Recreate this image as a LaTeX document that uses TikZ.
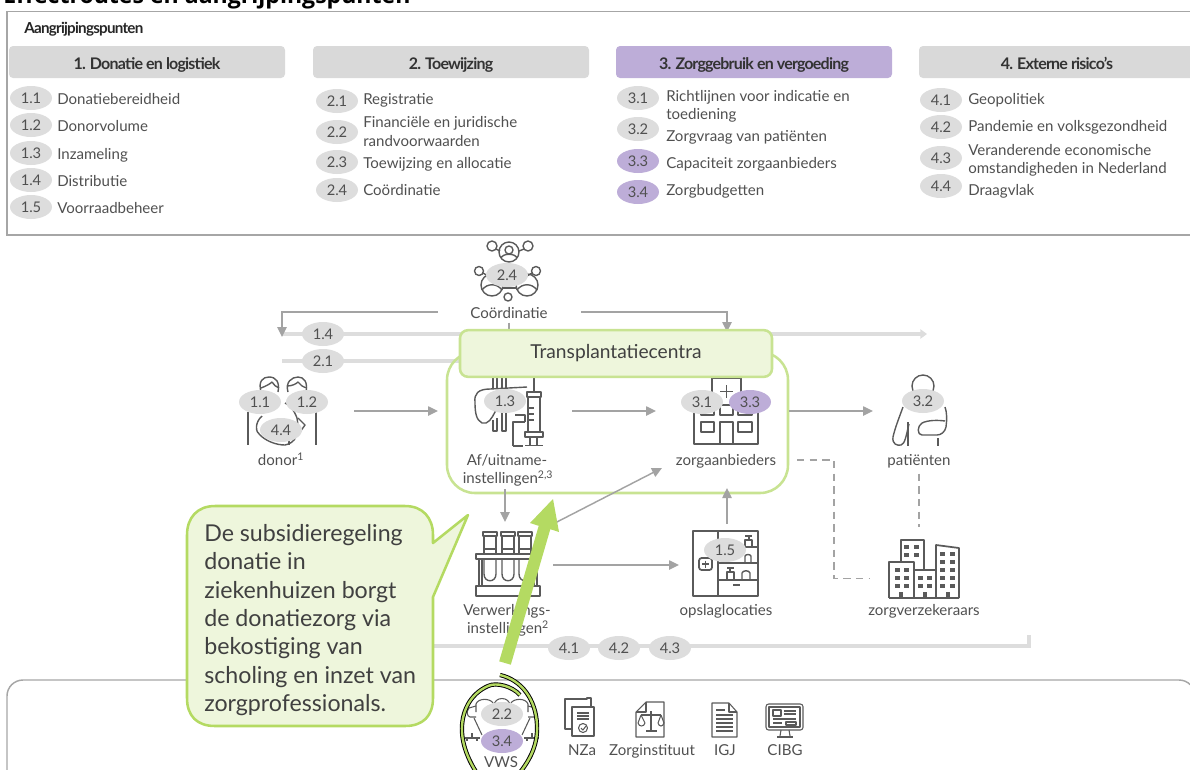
\documentclass[tikz,border=0pt]{standalone}
\usepackage{fontspec}
\setmainfont{Lato}
\newfontfamily\titlefont{Open Sans}
\newfontfamily\headfont[LetterSpace=-5]{Lato}
\usetikzlibrary{shapes.geometric,arrows.meta,calc}
\definecolor{framec}{HTML}{A6A6A6}
\definecolor{headc}{HTML}{D9D9D9}
\definecolor{purpc}{HTML}{BDADD8}
\definecolor{ellc}{HTML}{DDDDDD}
\definecolor{txtc}{HTML}{505050}
\definecolor{iconc}{HTML}{5A5A5A}
\definecolor{greenf}{HTML}{EEF6DC}
\definecolor{greenb}{HTML}{C8E392}
\definecolor{greend}{HTML}{B4DA62}
\definecolor{arrc}{HTML}{A3A3A3}
\newcommand{\fs}[1]{\fontsize{#1}{#1}\selectfont}
\tikzset{
  x=0.75pt,y=-0.75pt,
  pill/.style={ellipse,fill=ellc,minimum width=31.5pt,minimum height=18pt,inner sep=0pt,text=txtc,font=\fs{11}},
  pillp/.style={pill,fill=purpc},
  headbox/.style={fill=headc,rounded corners=3pt,minimum width=207pt,minimum height=24pt,inner sep=0pt,font=\headfont\bfseries\fs{12},text=black!80,text height=13pt,text depth=1.2pt},
  item/.style={anchor=west,inner sep=0pt,text=txtc,font=\fs{11.3},text height=10pt,text depth=1.2pt},
  lab/.style={inner sep=0pt,text=txtc,font=\fs{11.3},text height=10pt,text depth=1.2pt},
  arrowline/.style={draw=arrc,line width=1.1pt,-{Triangle[length=7.5pt,width=7pt]}},
  dashline/.style={draw=arrc,line width=1.1pt,dash pattern=on 5.5pt off 4pt},
  barline/.style={draw=ellc,line width=3.6pt},
  ic/.style={draw=iconc,line width=1.05pt,line join=round},
  slot/.style={inner sep=0pt,outer sep=0pt},
}
\begin{document}
\begin{tikzpicture}
\useasboundingbox (0,0) rectangle (1190,769);
\clip (0,0) rectangle (1190,769);
\node[anchor=base west,inner sep=0pt,font=\titlefont\bfseries\fs{17.3}] (title) at (3,3) {Effectroutes en aangrijpingspunten};
\draw[framec,line width=1.1pt] (7,11.5) rectangle (1200,235);
\node[anchor=west,inner sep=0pt,font=\headfont\bfseries\fs{11.4},text=black!85,text height=11pt,text depth=1pt] (aang) at (24,27) {Aangrijpingspunten};
\node[headbox] (h1) at (147,62) {1. Donatie en logistiek};
\node[headbox] (h2) at (451,62) {2. Toewijzing};
\node[headbox,fill=purpc] (h3) at (754,62) {3. Zorggebruik en vergoeding};
\node[headbox] (h4) at (1057,62) {4. Externe risico’s};
% list 1
\node[pill] (l11) at (31,98) {1.1}; \node[item] (t11) at (57,99) {Donatiebereidheid};
\node[pill] (l12) at (31,125) {1.2}; \node[item] (t12) at (57,126) {Donorvolume};
\node[pill] (l13) at (31,153) {1.3}; \node[item] (t13) at (57,154) {Inzameling};
\node[pill] (l14) at (31,180) {1.4}; \node[item] (t14) at (57,181) {Distributie};
\node[pill] (l15) at (31,207) {1.5}; \node[item] (t15) at (57,208) {Voorraadbeheer};
% list 2
\node[pill] (l21) at (337,101) {2.1}; \node[item] (t21) at (363,99) {Registratie};
\node[pill] (l22) at (337,132) {2.2}; \node[item] (t22a) at (363,122) {Financiële en juridische};
\node[item] (t22b) at (363,141) {randvoorwaarden};
\node[pill] (l23) at (337,162) {2.3}; \node[item] (t23) at (363,163) {Toewijzing en allocatie};
\node[pill] (l24) at (337,190) {2.4}; \node[item] (t24) at (363,190) {Coördinatie};
% list 3
\node[pill] (l31) at (638,98) {3.1}; \node[item] (t31a) at (666,96) {Richtlijnen voor indicatie en};
\node[item] (t31b) at (666,114) {toediening};
\node[pill] (l32) at (638,129) {3.2}; \node[item] (t32) at (666,136) {Zorgvraag van patiënten};
\node[pillp] (l33) at (638,161) {3.3}; \node[item] (t33) at (666,163) {Capaciteit zorgaanbieders};
\node[pillp] (l34) at (638,192) {3.4}; \node[item] (t34) at (666,190) {Zorgbudgetten};
% list 4
\node[pill] (l41) at (941,100) {4.1}; \node[item] (t41) at (968,99) {Geopolitiek};
\node[pill] (l42) at (941,127) {4.2}; \node[item] (t42) at (968,126) {Pandemie en volksgezondheid};
\node[pill] (l43) at (941,158) {4.3}; \node[item] (t43a) at (968,150) {Veranderende economische};
\node[item] (t43b) at (968,168) {omstandigheden in Nederland};
\node[pill] (l44) at (941,186) {4.4}; \node[item] (t44) at (968,190) {Draagvlak};

% invisible slots the connectors run between
\node[slot,minimum width=104.25pt,minimum height=54pt] (donor) at (284.5,411) {};
\node[slot,minimum width=100.5pt,minimum height=54pt] (af) at (505,411) {};
\node[slot,minimum width=99.75pt,minimum height=54pt] (hosp) at (722.5,411) {};
\node[slot,minimum width=69pt,minimum height=54pt] (pat) at (919,411) {};
\node[slot,minimum width=72pt,minimum height=64.5pt] (verw) at (505,565) {};
\node[slot,minimum width=72pt,minimum height=61.5pt] (opslag) at (727,565) {};
\node[slot,minimum width=60pt,minimum height=42pt] (zv) at (919,555) {};
\coordinate (hospIn) at (727,488);
\coordinate (diagS) at (553,524);
\coordinate (diagE) at (662,468);
\coordinate (d1) at (797,460);
\coordinate (d2) at (834,460);
\coordinate (d3) at (834,578.5);
\coordinate (d4) at (870,578.5);
\coordinate (b14s) at (282,334);
\coordinate (b14e) at (927,334);
\coordinate (b21s) at (282,361);
\coordinate (b21e) at (470,361);
\coordinate (c1) at (438,312);
\coordinate (c1t) at (282,337);
\coordinate (c2) at (581,312);
\coordinate (c2t) at (727,332);
\coordinate (bs) at (420,646);
\coordinate (bc) at (1029,646);
\coordinate (be) at (1029,635);

% bars
\draw[barline,-{Triangle[length=5pt,width=7pt]}] (b14s) -- (b14e);
\draw[barline] (b21s) -- (b21e);
\draw[barline] (bs) -- (bc) -- (be);
\draw[draw=greenb,line width=1.9pt,rounded corners=21pt] (447,352) rectangle (788,493);

% text labels
\node[lab] (coord) at (509,313) {Coördinatie};
\node[lab] (dlab) at (281,460) {donor\textsuperscript{1}};
\node[lab] (afa) at (507,460) {Af/uitname-};
\node[lab] (afb) at (508,478) {instellingen\textsuperscript{2,3}};
\node[lab] (hlab) at (726,460) {zorgaanbieders};
\node[lab] (plab) at (919,460) {patiënten};
\node[lab] (va) at (507,610) {Verwerkings-};
\node[lab] (vb) at (508,628) {instellingen\textsuperscript{2}};
\node[lab] (olab) at (726,610) {opslaglocaties};
\node[lab] (zlab) at (924,610) {zorgverzekeraars};

% connectors
\draw[arrowline] (c1) -| (c1t);
\draw[arrowline] (c2) -| (c2t);
\draw[draw=arrc,line width=1.1pt] (coord.south) ++(0,2) -- (coord.south |- 0,330);
\draw[arrowline] (donor.east) -- (af.west);
\draw[arrowline] (af.east) -- (hosp.west);
\draw[arrowline] (hosp.east) -- (pat.west);
\draw[arrowline] (verw.north |- 0,489) -- (verw.north);
\draw[arrowline] (verw.east) -- (opslag.west);
\draw[arrowline] (opslag.north) -- (hospIn);
\draw[arrowline] (diagS) -- (diagE);
\draw[dashline] (d1) -- (d2) -- (d3) -- (d4);
\draw[dashline] (plab.south) ++(0,6) -- (zv.north);

% icon: coordination
\begin{scope}[ic]
\draw (509,252) circle (10); \draw (509,250) circle (4);
\draw (501,258) .. controls (503,253) and (515,253) .. (517,258);
\draw (492,246) circle (5); \draw (528,246) circle (5);
\draw (479,271) circle (4.5); \draw (536,271) circle (4.5);
\draw (508,297) circle (4);
\draw (496,249) -- (500,251); \draw (524,249) -- (519,251);
\draw (483,273) -- (488,276); \draw (532,273) -- (527,276);
\draw (492,285) circle (11); \draw (527,285) circle (11);
\draw (482,290) .. controls (487,283) and (497,283) .. (502,290);
\draw (517,290) .. controls (522,283) and (532,283) .. (537,290);
\draw (503,288) -- (516,288);
\end{scope}
% icon: donor
\begin{scope}[ic]
\draw (261,392) .. controls (258,381) and (263,377) .. (269,377) .. controls (276,377) and (280,382) .. (278,392);
\draw (261,388) .. controls (266,386) and (270,384) .. (272,382) .. controls (274,385) and (276,387) .. (279,388);
\draw (288,392) .. controls (285,382) and (292,377) .. (298,377) .. controls (304,377) and (308,382) .. (306,392);
\draw (287,386) .. controls (292,386) and (296,384) .. (298,382) .. controls (300,385) and (303,387) .. (307,388);
\draw (248,412) -- (248,445); \draw (316,412) -- (316,445); \draw (289,436) -- (289,445);
\draw (262,416) .. controls (255,422) and (255,432) .. (260,435) .. controls (266,441) and (276,445) .. (285,445) .. controls (295,443) and (300,435) .. (297,418) .. controls (294,410) and (290,405) .. (285,403);
\draw (298,418) -- (305,425) -- (300,432);
\end{scope}
% icon: liver and syringe
\begin{scope}[ic]
\draw (527,387) -- (490,389) .. controls (478,389) and (474,394) .. (475,402) .. controls (475,412) and (476,420) .. (482,423) .. controls (488,425) and (492,418) .. (495,412) .. controls (497,408) and (500,404) .. (502,402);
\draw (493,378) -- (493,389); \draw (497,378) -- (497,389); \draw (502,378) -- (502,389); \draw (506,378) -- (506,389);
\draw (493,420) -- (493,431) -- (497,431) -- (497,418); \draw (502,412) -- (502,431) -- (506,431) -- (506,412);
\draw (515,415) -- (525,415) -- (525,422); \draw (513,446) -- (513,422) -- (525,422); \draw (513,446) -- (523,446);
\draw (534,377) -- (534,392);
\draw (527,392) rectangle (541,397);
\draw (528,397) rectangle (540,432);
\draw (528,408) -- (534,408); \draw (528,414) -- (534,414); \draw (528,420) -- (534,420);
\draw (525,432) rectangle (543,437);
\draw (530,437) -- (530,445); \draw (537,437) -- (537,445);
\draw (525,445.5) -- (543,445.5);
\end{scope}
% icon: hospital
\begin{scope}[ic]
\draw (712,405) -- (712,378) -- (741,378) -- (741,405);
\draw (726.5,385) -- (726.5,398); \draw (720,391.5) -- (733,391.5);
\draw (694,444) rectangle (758,405);
\draw (701,405) rectangle (714,415); \draw (720,405) rectangle (733,415); \draw (738,405) rectangle (752,415);
\draw (701,422) rectangle (714,432); \draw (738,422) rectangle (752,432);
\draw (720,444) -- (720,422) -- (733,422) -- (733,444);
\end{scope}
% icon: patient
\begin{scope}[ic]
\draw (923,386) circle (11);
\draw (903,407) .. controls (899,418) and (895,428) .. (893,437) .. controls (892,444) and (897,446) .. (901,445) .. controls (905,444) and (906,436) .. (909,424);
\draw (908,422) -- (908,446);
\draw (945,407) .. controls (947,412) and (947,420) .. (946,427) .. controls (945,432) and (941,435) .. (937,435) -- (922,435) .. controls (917,435) and (917,426) .. (922,423) .. controls (928,420) and (938,420) .. (945,421);
\draw (938,438) -- (938,446);
\end{scope}
% icon: storage
\begin{scope}[ic,line width=1.3pt]
\draw (693,531) rectangle (758,596);
\draw (718,531) -- (718,596);
\draw (718,547) -- (758,547); \draw (718,563) -- (758,563); \draw (718,580) -- (758,580);
\draw[rounded corners=2pt] (699,558) rectangle (712,570);
\draw (702,564) -- (709,564); \draw (705.5,560.5) -- (705.5,567.5);
\draw (733,585) -- (740,585);
\end{scope}
\begin{scope}[ic]
\draw (745,547) -- (745,540) -- (752,540) -- (752,547); \draw (745,536) -- (752,536) (749,536) -- (749,540);
\draw (745,563) -- (745,556) .. controls (746,554) and (750,554) .. (751,556) -- (751,563);
\draw (727,580) -- (727,572) -- (734,572) -- (734,580); \draw (727,568) -- (734,568) (730,568) -- (730,572);
\draw (742,580) -- (742,573) .. controls (743,570) and (749,570) .. (750,573) -- (750,580);
\end{scope}
% icon: insurers
\begin{scope}[ic,line width=1.3pt]
\draw (901,562) -- (901,540) -- (924,540) -- (924,570);
\draw (889,598) -- (889,562) -- (914,562) -- (914,598);
\draw (914,570) -- (936,570) (936,598) -- (936,545) -- (959,548) -- (959,598);
\draw (889,598) -- (959,598);
\end{scope}
\foreach \wx/\wy in {906/547,916/547,906/555,916/555,
  897/570,906/570,897/578,906/578,897/586,906/586,
  920/578,929/578,920/586,929/586,
  942/554,952/554,942/562,952/562,942/570,952/570,942/578,952/578,942/586,952/586}
  {\fill[iconc] (\wx-2.5,\wy-2) rectangle (\wx+2.5,\wy+2);}
\foreach \wx in {901,925,948} {\fill[iconc] (\wx-2,592) rectangle (\wx+2,598);}
% icon: test tubes
\begin{scope}[ic]
\foreach \tx in {490,508,525} {
  \draw (\tx-7,532) rectangle (\tx+7,536);
  \draw (\tx-6,536) -- (\tx-6,554);
  \draw (\tx+6,536) -- (\tx+6,554);
  \draw (\tx-6,549) -- (\tx+6,549);
  \draw (\tx-6,559) -- (\tx-6,574) .. controls (\tx-6,583) and (\tx+6,583) .. (\tx+6,574) -- (\tx+6,559);
}
\draw (476,554) rectangle (540,559);
\draw (479,559) -- (479,586); \draw (482,559) -- (482,586);
\draw (534,559) -- (534,586); \draw (537,559) -- (537,586);
\draw (476,586) rectangle (540,596);
\end{scope}

% pills on the diagram
\node[pill] (p24) at (507,275) {2.4};
\node[pill] (p14) at (323,334) {1.4};
\node[pill] (p21) at (323,361) {2.1};
\node[pill] (p11) at (260,402) {1.1};
\node[pill] (p12) at (307,402) {1.2};
\node[pill] (p44) at (281,430) {4.4};
\node[pill] (p13) at (505,401) {1.3};
\node[pill] (p31) at (702,402) {3.1};
\node[pillp] (p33) at (750,402) {3.3};
\node[pill] (p32) at (923,401) {3.2};
\node[pill] (p15) at (725,550) {1.5};
\node[pill] (p41) at (569,648) {4.1};
\node[pill] (p42) at (619,648) {4.2};
\node[pill] (p43) at (670,648) {4.3};

% Transplantatiecentra
\node[fill=greenf,draw=greenb,line width=1.9pt,rounded corners=6pt,minimum width=234pt,minimum height=35pt,inner sep=0pt,font=\fs{14.4},text=txtc!80!black] (tc) at (616,353.5) {Transplantatiecentra};

% bottom frame
\draw[framec,line width=1.1pt,rounded corners=12pt] (7,680) rectangle (1195,800);
% bottom icons
\begin{scope}[ic,line width=0.8pt]
\draw (572,729) -- (565,729) -- (565,699) -- (587,699) -- (587,698) -- (591,698) -- (591,707);
\draw (572,707) rectangle (594,736);
\draw (577,713) -- (589,713); \draw (577,716) -- (589,716); \draw (577,719) -- (589,719);
\draw (583,728) circle (4.5); \draw (581,728) -- (583,730) -- (586,726);
\draw (636,712) -- (646,702) -- (664,702) -- (664,737) -- (636,737) -- cycle;
\draw (646,702) -- (646,712) -- (636,712);
\draw (651,711) -- (651,730); \draw (641,715) -- (661,715);
\draw (641,715) -- (638,723) .. controls (639,727) and (644,727) .. (645,723) -- (641,715);
\draw (661,715) -- (658,723) .. controls (659,727) and (663,727) .. (664,723) -- (661,715);
\draw (646,731) -- (657,731);
\draw (712,703) -- (729,703) -- (737,712) -- (737,737) -- (712,737) -- cycle;
\draw (729,703) -- (729,712) -- (737,712);
\draw (716,710) -- (725,710);
\foreach \ly in {715,719,723,727,731} {\draw (716,\ly) -- (733,\ly);}
\draw[rounded corners=2pt] (766,704) rectangle (803,730);
\draw (769,707) rectangle (800,727);
\draw (773,710) rectangle (781,716);
\draw (784,711) -- (796,711); \draw (784,714) -- (796,714); \draw (773,719) -- (796,719); \draw (773,723) -- (782,723); \draw (786,722) rectangle (796,725);
\draw (781,730) -- (780,736) (789,730) -- (790,736); \draw (777,737) -- (793,737);
% meeting table
\draw (494,706) .. controls (494,696) and (510,696) .. (510,706);
\draw (476,712) -- (476,704) .. controls (478,698) and (490,698) .. (493,703);
\draw (528,712) -- (528,704) .. controls (526,698) and (514,698) .. (511,703);
\draw (476,706) -- (469,708) .. controls (466,712) and (467,716) .. (470,717) -- (476,717);
\draw (528,706) -- (535,708) .. controls (538,712) and (537,716) .. (534,717) -- (528,717);
\draw (474,718) -- (482,735); \draw (530,718) -- (522,735);
\draw (465,738) -- (480,738) (472,733) -- (472,738) (467,738) -- (467,741) (477,738) -- (477,741);
\draw (524,738) -- (539,738) (532,733) -- (532,738) (527,738) -- (527,741) (537,738) -- (537,741);
\end{scope}
\node[pill] (p22) at (502,714) {2.2};
\node[pillp] (p34) at (502,741) {3.4};
\node[anchor=base,inner sep=0pt,text=txtc,font=\fs{11.3}] (tvws) at (501,767.5) {VWS};
\node[lab] (tnza) at (582,750) {NZa};
\node[lab] (tzi) at (652,750) {Zorginstituut};
\node[lab] (tigj) at (725,750) {IGJ};
\node[lab] (tcibg) at (785,750) {CIBG};
% hand drawn ring
\def\ringpath{(520,695) .. controls (512,686) and (496,682) .. (488,686) .. controls (470,694) and (461,712) .. (462,732) .. controls (463,750) and (472,770) .. (490,790) (518,775) .. controls (530,760) and (538,745) .. (537,725) .. controls (536,700) and (522,680) .. (500,675)}
\draw[black,line width=3.2pt] \ringpath;
\draw[greend,line width=1.8pt] \ringpath;

% callout
\draw[draw=greend,fill=greenf,line width=1.9pt,line join=round]
  (215,506) -- (405,506) .. controls (423,506) and (433,518) .. (433,535) -- (433,543) -- (468,515) -- (433,597)
  -- (433,698) .. controls (433,716) and (423,726) .. (405,726) -- (215,726) .. controls (197,726) and (187,716) .. (187,698)
  -- (187,535) .. controls (187,518) and (197,506) .. (215,506) -- cycle;
\node[anchor=west,inner sep=0pt,align=left,text=txtc!80!black,font=\fontsize{17.4}{21.3}\selectfont] (ctext) at (204,620) {De subsidieregeling\\donatie in\\ziekenhuizen borgt\\de donatiezorg via\\bekostiging van\\scholing en inzet van\\zorgprofessionals.};
% large green arrow
\fill[greend] (499.2,661.3) -- (538.7,525.8) -- (530,523) -- (553,499) -- (559,532) -- (550.3,529.2) -- (510.8,664.7) -- cycle;
\end{tikzpicture}
\end{document}
